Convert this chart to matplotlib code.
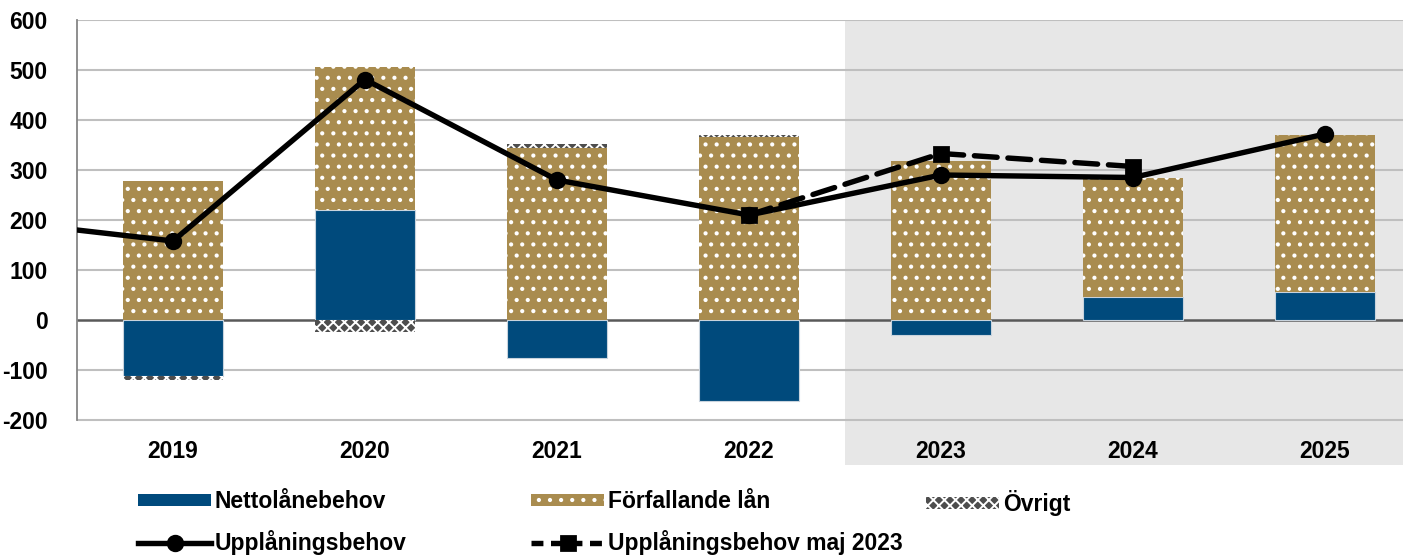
import matplotlib
matplotlib.use("Agg")
import matplotlib.pyplot as plt
from matplotlib.patches import Patch
from matplotlib.lines import Line2D
import numpy as np

plt.rcParams['font.family'] = ['Liberation Sans', 'DejaVu Sans']
plt.rcParams['font.weight'] = 'bold'
plt.rcParams['axes.unicode_minus'] = False

years = ['2019', '2020', '2021', '2022', '2023', '2024', '2025']
netto = [-111, 220, -75, -162, -29, 46, 57]
forfallande = [278, 286, 344, 366, 318, 238, 313]
ovrigt = [-9, -24, 8, 5, 0, 0, 0]
line_years = ['2018', '2019', '2020', '2021', '2022', '2023', '2024', '2025']
upplaning = [202, 158, 481, 280, 210, 290, 285, 372]
maj_years = ['2022', '2023', '2024']
upplaning_maj = [210, 333, 307]

NAVY = '#004A7C'
GOLD = '#A98C4F'
GREY = '#4D4D4D'

DPI = 200
S = 100 / DPI  # convert "points at 100 dpi" to points at DPI
plt.rcParams['hatch.linewidth'] = 1.0 * S * 1.4

W, H = 1403, 555
fig = plt.figure(figsize=(W / DPI, H / DPI), dpi=DPI)
ax = fig.add_axes([77 / W, 1 - 465 / H, (W - 77) / W, 445 / H])

x = np.arange(len(years))
bw = 0.52
netto_a = np.array(netto, float)
forf_a = np.array(forfallande, float)
ovr_a = np.array(ovrigt, float)

ax.bar(x, netto_a, bw, color=NAVY, edgecolor='#C8D3DD', linewidth=0.8 * S, zorder=3)
forf_bottom = np.maximum(netto_a, 0)
ax.bar(x, forf_a, bw, bottom=forf_bottom, facecolor=GOLD, edgecolor='white',
       linewidth=0, hatch='...', zorder=3)
ovr_bottom = np.where(ovr_a >= 0, forf_bottom + forf_a, np.minimum(netto_a, 0))
ax.bar(x, ovr_a, bw, bottom=ovr_bottom, facecolor=GREY, edgecolor='white',
       linewidth=0, hatch='xxxxxx', zorder=3)

# lines
LW = 3.9 * S
MS = 10.5 * S
xl = [int(y) - 2019 for y in line_years]
ax.plot(xl, upplaning, color='black', lw=LW, marker='o', ms=MS, zorder=5,
        solid_capstyle='round')
xm = [years.index(y) for y in maj_years]
ax.plot(xm, upplaning_maj, color='black', lw=LW, ls=(0, (4.2, 2.0)), marker='s', ms=MS,
        dash_capstyle='round', zorder=4)

# axes
xmax = -0.5 + (W - 77) / 192
ax.set_xlim(-0.5, xmax)
ax.set_ylim(-290, 600)
ax.axvspan(3.5, xmax + 1, color='#E7E7E7', zorder=0, lw=0)
for v in range(-200, 601, 100):
    if v == 0:
        ax.axhline(v, color='#595959', lw=1.8 * S, zorder=2)
    else:
        ax.axhline(v, color='#BFBFBF', lw=1.5 * S, zorder=1)
FS = 16.5 * S
ax.set_yticks(range(-200, 601, 100))
ax.tick_params(axis='y', length=0, pad=21 * S, labelsize=FS)
ax.set_xticks([])
for s in ['top', 'right', 'bottom']:
    ax.spines[s].set_visible(False)
ax.spines['left'].set_bounds(-200, 600)
ax.spines['left'].set_color('#868686')
ax.spines['left'].set_linewidth(1.3 * S)
ax.patch.set_alpha(0)
for i, y in enumerate(years):
    ax.text(i, -262, y, ha='center', va='center', fontsize=FS, fontweight='bold')

# legends
h_netto = Patch(facecolor=NAVY, edgecolor=NAVY, lw=0)
h_forf = Patch(facecolor=GOLD, edgecolor='white', lw=0, hatch='...')
h_ovr = Patch(facecolor=GREY, edgecolor='white', lw=0, hatch='xxxxxx')
h_up = Line2D([], [], color='black', lw=LW, marker='o', ms=MS)
h_maj = Line2D([], [], color='black', lw=LW, ls=(0, (2.2, 1.4)), marker='s', ms=MS)

common = dict(frameon=False, handlelength=3.2, handleheight=0.45,
              handletextpad=0.15, labelspacing=0.75, borderpad=0, borderaxespad=0,
              loc='upper left', prop={'weight': 'bold', 'size': FS})
top = 1 - 490 / H
fig.legend([h_netto, h_up], ['Nettolånebehov', 'Upplåningsbehov'],
           bbox_to_anchor=(138 / W, top), **common)
fig.legend([h_forf, h_maj], ['Förfallande lån', 'Upplåningsbehov maj 2023'],
           bbox_to_anchor=(531 / W, top), **common)
fig.legend([h_ovr], ['Övrigt'],
           bbox_to_anchor=(926 / W, top), **common)

fig.savefig('out.png', dpi=DPI)
